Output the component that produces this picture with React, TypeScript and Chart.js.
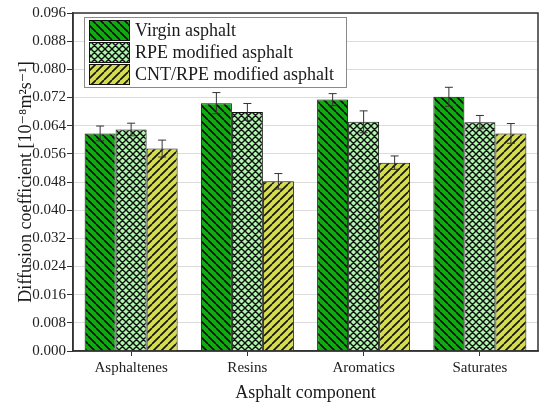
import { useEffect, useRef } from 'react';
import { Chart, registerables } from 'chart.js';

Chart.register(...registerables);

const categories = ['Asphaltenes', 'Resins', 'Aromatics', 'Saturates'];
const seriesNames = ['Virgin asphalt', 'RPE modified asphalt', 'CNT/RPE modified asphalt'];
const virginValues = [0.0618, 0.0704, 0.0714, 0.0722];
const virginErrors = [0.0021, 0.003, 0.0017, 0.0027];
const rpeValues = [0.0629, 0.0679, 0.0651, 0.065];
const rpeErrors = [0.0018, 0.0024, 0.0031, 0.0019];
const cntValues = [0.0575, 0.0482, 0.0535, 0.0618];
const cntErrors = [0.0024, 0.0022, 0.0019, 0.0028];
const yMin = 0;
const yMax = 0.096;
const yStep = 0.004;

const FONT = "'Liberation Serif', 'DejaVu Serif', serif";

type Kind = 'back' | 'fwd' | 'cross';

function makePattern(bg: string, kind: Kind, size: number, lw: number): CanvasPattern | string {
  const c = document.createElement('canvas');
  c.width = size;
  c.height = size;
  const g = c.getContext('2d');
  if (!g) return bg;
  g.fillStyle = bg;
  g.fillRect(0, 0, size, size);
  g.strokeStyle = '#101010';
  g.lineWidth = lw;
  g.beginPath();
  for (const o of [-size, 0, size]) {
    if (kind === 'back' || kind === 'cross') {
      g.moveTo(o, 0);
      g.lineTo(o + size, size);
    }
    if (kind === 'fwd' || kind === 'cross') {
      g.moveTo(o, size);
      g.lineTo(o + size, 0);
    }
  }
  g.stroke();
  return g.createPattern(c, 'repeat') || bg;
}

export default function App() {
  const ref = useRef<HTMLCanvasElement | null>(null);

  useEffect(() => {
    document.body.style.margin = '0';
    const canvas = ref.current;
    if (!canvas) return;

    const patterns = [
      makePattern('#12aa12', 'back', 8, 1.6),
      makePattern('#b0f7ae', 'cross', 7, 1.4),
      makePattern('#d5de4a', 'fwd', 8, 1.6),
    ];
    const valuesBySeries = [virginValues, rpeValues, cntValues];
    const errorsBySeries = [virginErrors, rpeErrors, cntErrors];

    const errorBars = {
      id: 'errorBars',
      afterDatasetsDraw(chart: any) {
        const ctx = chart.ctx;
        const y = chart.scales.y;
        ctx.save();
        ctx.strokeStyle = '#333';
        ctx.lineWidth = 1;
        errorsBySeries.forEach((errs, i) => {
          const meta = chart.getDatasetMeta(i);
          meta.data.forEach((el: any, j: number) => {
            const v = valuesBySeries[i][j];
            const top = y.getPixelForValue(v + errs[j]);
            const bot = y.getPixelForValue(v - errs[j]);
            const x = el.x;
            ctx.beginPath();
            ctx.moveTo(x, top);
            ctx.lineTo(x, bot);
            ctx.moveTo(x - 4, top);
            ctx.lineTo(x + 4, top);
            ctx.moveTo(x - 4, bot);
            ctx.lineTo(x + 4, bot);
            ctx.stroke();
          });
        });
        ctx.restore();
      },
    };

    const frameAndLegend = {
      id: 'frameAndLegend',
      afterDraw(chart: any) {
        const ctx = chart.ctx;
        const a = chart.chartArea;
        ctx.save();
        ctx.strokeStyle = '#333';
        ctx.lineWidth = 1.5;
        ctx.strokeRect(a.left, a.top, a.right - a.left, a.bottom - a.top);

        // legend
        const lx = 84;
        const ly = 17;
        const lw = 262;
        const lh = 70;
        ctx.fillStyle = '#ffffff';
        ctx.fillRect(lx, ly, lw, lh);
        ctx.strokeStyle = '#8a8a8a';
        ctx.lineWidth = 1;
        ctx.strokeRect(lx + 0.5, ly + 0.5, lw, lh);
        ctx.font = `18px ${FONT}`;
        ctx.textBaseline = 'middle';
        ctx.textAlign = 'left';
        seriesNames.forEach((name, i) => {
          const sy = 20 + i * 22;
          ctx.fillStyle = patterns[i] as any;
          ctx.fillRect(89, sy, 40, 20);
          ctx.strokeStyle = '#111';
          ctx.lineWidth = 1;
          ctx.strokeRect(89.5, sy + 0.5, 40, 20);
          ctx.fillStyle = '#1a1a1a';
          ctx.fillText(name, 135, sy + 11);
        });
        ctx.restore();
      },
    };

    const chart = new Chart(canvas, {
      type: 'bar',
      data: {
        labels: categories,
        datasets: seriesNames.map((name, i) => ({
          label: name,
          data: valuesBySeries[i],
          backgroundColor: patterns[i] as any,
          borderColor: '#111',
          borderWidth: 1,
          categoryPercentage: 0.8,
          barPercentage: 1.0,
        })),
      },
      options: {
        animation: false,
        responsive: false,
        maintainAspectRatio: false,
        layout: { padding: { top: 13, right: 12, left: 0, bottom: 0 } },
        plugins: {
          legend: { display: false },
          tooltip: { enabled: false },
        },
        scales: {
          x: {
            afterFit: (s: any) => {
              s.height = 58;
            },
            grid: {
              drawOnChartArea: false,
              offset: false,
              tickLength: 5,
              tickColor: '#333',
            },
            border: { color: '#333', width: 1.5 },
            ticks: {
              color: '#222',
              font: { family: FONT, size: 15 },
              padding: 3,
            },
            title: {
              display: true,
              text: 'Asphalt component',
              color: '#1a1a1a',
              font: { family: FONT, size: 18 },
              padding: { top: 0, bottom: 5 },
            },
          },
          y: {
            min: yMin,
            max: yMax,
            afterFit: (s: any) => {
              s.width = 73;
            },
            grid: {
              color: '#dcdcdc',
              tickLength: 6,
              tickColor: '#333',
              lineWidth: 1,
            },
            border: { color: '#333', width: 1.5 },
            ticks: {
              stepSize: yStep,
              color: '#222',
              padding: 1,
              font: { family: FONT, size: 15 },
              callback: (value: any, index: number) =>
                index % 2 === 0 ? Number(value).toFixed(3) : '',
            },
            title: {
              display: true,
              text: 'Diffusion coefficient [10⁻⁸m²s⁻¹]',
              color: '#1a1a1a',
              font: { family: FONT, size: 18 },
              padding: { top: 15, bottom: 0 },
            },
          },
        },
      },
      plugins: [errorBars, frameAndLegend],
    });

    return () => chart.destroy();
  }, []);

  return (
    <div style={{ width: 550, height: 409 }}>
      <canvas ref={ref} width={550} height={409} style={{ display: 'block', width: 550, height: 409 }} />
    </div>
  );
}
